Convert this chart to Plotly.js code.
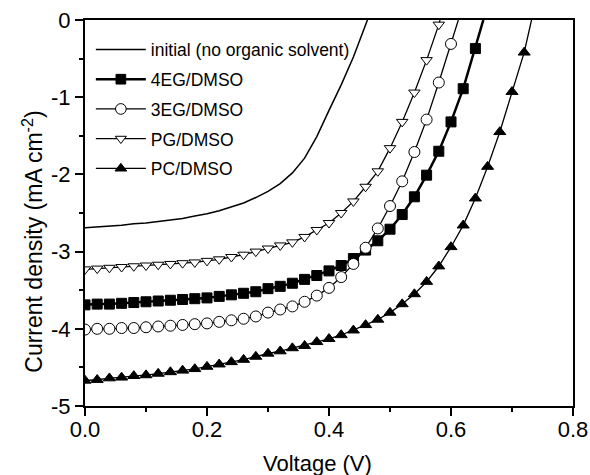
<!DOCTYPE html>
<html>
<head>
<meta charset="utf-8">
<script src="https://cdn.plot.ly/plotly-3.0.1.min.js"></script>
<style>html,body{margin:0;padding:0;background:#fff;}#chart{width:590px;height:475px;}</style>
</head>
<body>
<div id="chart"></div>
<script>
// Voltage grid of the measured points (V)
const voltage = [0.00,0.02,0.04,0.06,0.08,0.10,0.12,0.14,0.16,0.18,0.20,0.22,0.24,0.26,0.28,0.30,0.32,0.34,0.36,0.38,0.40,0.42,0.44,0.46,0.48,0.50,0.52,0.54,0.56,0.58,0.60,0.62,0.64,0.66,0.68,0.70,0.72];

// Current density (mA cm^-2)
const jInitial = [-2.69,-2.68,-2.67,-2.66,-2.64,-2.63,-2.61,-2.59,-2.57,-2.54,-2.51,-2.47,-2.42,-2.37,-2.30,-2.22,-2.12,-1.98,-1.79,-1.51,-1.17,-0.84,-0.48,-0.08];
const jPG = [-3.23,-3.22,-3.21,-3.20,-3.19,-3.18,-3.17,-3.16,-3.15,-3.14,-3.12,-3.10,-3.07,-3.04,-3.00,-2.96,-2.92,-2.88,-2.81,-2.72,-2.63,-2.50,-2.35,-2.16,-1.96,-1.66,-1.32,-0.94,-0.52,-0.06];
const j4EG = [-3.69,-3.68,-3.68,-3.67,-3.66,-3.65,-3.64,-3.63,-3.62,-3.61,-3.60,-3.58,-3.56,-3.54,-3.52,-3.48,-3.45,-3.41,-3.36,-3.31,-3.25,-3.18,-3.09,-2.98,-2.86,-2.71,-2.52,-2.29,-2.01,-1.70,-1.32,-0.89,-0.37];
const j3EG = [-4.01,-4.00,-4.00,-3.99,-3.99,-3.98,-3.97,-3.96,-3.95,-3.94,-3.93,-3.91,-3.89,-3.87,-3.84,-3.79,-3.75,-3.71,-3.65,-3.57,-3.47,-3.33,-3.16,-2.95,-2.70,-2.41,-2.09,-1.71,-1.29,-0.81,-0.31];
const jPC = [-4.67,-4.66,-4.64,-4.63,-4.61,-4.60,-4.58,-4.56,-4.54,-4.52,-4.49,-4.46,-4.43,-4.40,-4.36,-4.32,-4.29,-4.25,-4.22,-4.17,-4.13,-4.08,-4.02,-3.95,-3.88,-3.79,-3.68,-3.55,-3.39,-3.19,-2.94,-2.66,-2.31,-1.90,-1.45,-0.93,-0.42];

// Open-circuit voltages (where each curve reaches J = 0)
const vocInitial = 0.463, vocPG = 0.582, voc3EG = 0.612, voc4EG = 0.653, vocPC = 0.732;

const names = ['initial (no organic solvent)', '4EG/DMSO', '3EG/DMSO', 'PG/DMSO', 'PC/DMSO'];

const xTickVals = [0, 0.2, 0.4, 0.6, 0.8];
const xTickText = ['0.0', '0.2', '0.4', '0.6', '0.8'];
const yTickVals = [0, -1, -2, -3, -4, -5];
const yTickText = ['0', '-1', '-2', '-3', '-4', '-5'];
const xTitle = 'Voltage (V)';
const yTitle = 'Current density (mA cm<sup>-2</sup>)';

function series(j, voc) {
  const x = voltage.slice(0, j.length).concat([voc]);
  const y = j.concat([0]);
  return {x, y};
}

function mk(j, voc, name, group, lineW, symbol, size, fill) {
  const s = series(j, voc);
  const sizes = j.map(() => size).concat([0]);
  return {
    x: s.x, y: s.y, name: name, legendgroup: group, type: 'scatter',
    mode: 'lines+markers',
    line: {color: '#000', width: lineW},
    marker: {symbol: symbol, size: sizes, color: fill, opacity: 1, line: {color: '#000', width: 1}},
    cliponaxis: true
  };
}

const s0 = series(jInitial, vocInitial);
const traces = [
  {x: s0.x, y: s0.y, name: names[0], legendgroup: 'g0', type: 'scatter', mode: 'lines',
   line: {color: '#000', width: 1.5}},
  mk(j4EG, voc4EG, names[1], 'g1', 2.5, 'square', 10, '#000'),
  mk(j3EG, voc3EG, names[2], 'g2', 1.3, 'circle', 11, '#fff'),
  mk(jPG, vocPG, names[3], 'g3', 1.3, 'triangle-down', 10, '#fff'),
  mk(jPC, vocPC, names[4], 'g4', 1.3, 'triangle-up', 10.5, '#000')
];

const font = 'Arial, "Liberation Sans", sans-serif';
const axisCommon = {
  showgrid: false, zeroline: false, showline: true, linecolor: '#000', linewidth: 2,
  mirror: true, ticks: 'outside', ticklen: 8, tickwidth: 2, tickcolor: '#000',
  tickfont: {family: font, size: 22, color: '#000'}, tickmode: 'array'
};

const layout = {
  width: 590, height: 475,
  margin: {l: 85, r: 17, t: 20, b: 69},
  paper_bgcolor: '#fff', plot_bgcolor: '#fff',
  font: {family: font, color: '#000'},
  showlegend: true,
  legend: {x: 0.012, y: 0.97, xanchor: 'left', yanchor: 'top', bgcolor: 'rgba(0,0,0,0)',
           font: {family: font, size: 17.5, color: '#000'}, tracegroupgap: 4, itemwidth: 50,
           traceorder: 'grouped'},
  xaxis: Object.assign({}, axisCommon, {
    range: [0, 0.8], tickvals: xTickVals, ticktext: xTickText, ticklabelstandoff: -5,
    minor: {tickmode: 'linear', tick0: 0, dtick: 0.1, ticks: 'outside', ticklen: 4, tickwidth: 2, tickcolor: '#000'}
  }),
  yaxis: Object.assign({}, axisCommon, {
    range: [-5, 0], tickvals: yTickVals, ticktext: yTickText,
    minor: {tickmode: 'linear', tick0: 0, dtick: 0.5, ticks: 'outside', ticklen: 4, tickwidth: 2, tickcolor: '#000'}
  }),
  annotations: [
    {text: xTitle, xref: 'paper', yref: 'paper', x: 0.477, y: -0.15, xanchor: 'center', yanchor: 'middle',
     showarrow: false, font: {family: font, size: 22, color: '#000'}},
    {text: yTitle, xref: 'paper', yref: 'paper', x: -0.107, y: 0.425, xanchor: 'center', yanchor: 'middle',
     textangle: -90, showarrow: false, font: {family: font, size: 23, color: '#000'}}
  ]
};

Plotly.newPlot('chart', traces, layout, {staticPlot: true, displayModeBar: false});
</script>
</body>
</html>
